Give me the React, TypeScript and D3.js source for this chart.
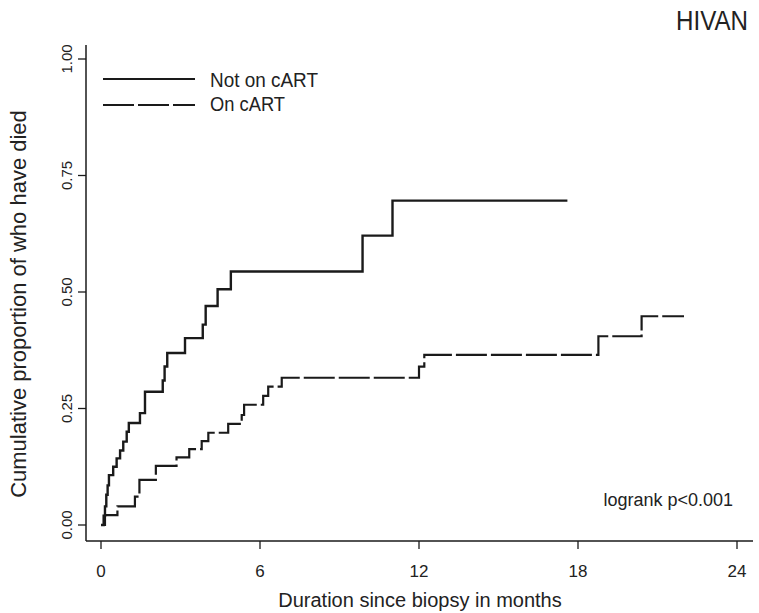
import React from "react";
import * as d3 from "d3";

const notOnTimes = [0, 0.1, 0.15, 0.2, 0.25, 0.3, 0.46, 0.59, 0.72, 0.84, 0.97, 1.05, 1.47, 1.66, 2.33, 2.4, 2.5, 3.17, 3.84, 3.95, 4.4, 4.9, 9.87, 11.0, 17.6];
const notOnValues = [0, 0.02, 0.04, 0.065, 0.085, 0.107, 0.125, 0.143, 0.16, 0.179, 0.2, 0.219, 0.24, 0.286, 0.31, 0.34, 0.369, 0.401, 0.43, 0.47, 0.506, 0.544, 0.621, 0.696, 0.696];

const onTimes = [0, 0.15, 0.62, 1.28, 1.45, 2.07, 2.85, 3.33, 3.8, 4.05, 4.8, 5.31, 5.4, 6.12, 6.31, 6.82, 12.0, 12.2, 18.77, 20.4, 22.0];
const onValues = [0, 0.021, 0.04, 0.061, 0.097, 0.127, 0.145, 0.163, 0.18, 0.198, 0.217, 0.236, 0.258, 0.277, 0.297, 0.316, 0.34, 0.365, 0.405, 0.448, 0.448];

const xTicks = [0, 6, 12, 18, 24];
const yTicks = [0, 0.25, 0.5, 0.75, 1];
const yTickLabels = ["0.00", "0.25", "0.50", "0.75", "1.00"];
const seriesNames = ["Not on cART", "On cART"];
const title = "HIVAN";
const xTitle = "Duration since biopsy in months";
const yTitle = "Cumulative proportion of who have died";
const note = "logrank p<0.001";

export default function App() {
  const W = 759, H = 613;
  const x = d3.scaleLinear().domain([0, 24]).range([101, 737]);
  const y = d3.scaleLinear().domain([0, 1]).range([525, 59]);
  const axisX = 86, axisY = 541;
  const ink = "#1a1a1a";
  const font = "'Liberation Sans', Arial, sans-serif";

  const line = d3
    .line<[number, number]>()
    .x((d) => x(d[0]))
    .y((d) => y(d[1]))
    .curve(d3.curveStepAfter);

  const notOn = notOnTimes.map((t, i) => [t, notOnValues[i]] as [number, number]);
  const on = onTimes.map((t, i) => [t, onValues[i]] as [number, number]);

  return (
    <svg width={W} height={H} style={{ position: "absolute", left: 0, top: 0, background: "#fff" }} fontFamily={font}>
      <rect x={0} y={0} width={W} height={H} fill="#fff" />
      {/* axes */}
      <line x1={axisX} y1={45} x2={axisX} y2={axisY} stroke={ink} strokeWidth={1.5} />
      <line x1={axisX} y1={axisY} x2={753} y2={axisY} stroke={ink} strokeWidth={1.5} />
      {yTicks.map((t, i) => (
        <g key={"yt" + i}>
          <line x1={78} x2={axisX} y1={y(t)} y2={y(t)} stroke={ink} strokeWidth={1.3} />
          <text
            transform={`translate(72,${y(t)}) rotate(-90)`}
            textAnchor="middle"
            fontSize={15}
            fill="#222"
          >
            {yTickLabels[i]}
          </text>
        </g>
      ))}
      {xTicks.map((t, i) => (
        <g key={"xt" + i}>
          <line x1={x(t)} x2={x(t)} y1={axisY} y2={axisY + 8} stroke={ink} strokeWidth={1.3} />
          <text x={x(t)} y={577} textAnchor="middle" fontSize={17} fill="#222">
            {String(t)}
          </text>
        </g>
      ))}
      <text x={420} y={607} textAnchor="middle" fontSize={20} fill="#222">
        {xTitle}
      </text>
      <text transform={`translate(26,304) rotate(-90)`} textAnchor="middle" fontSize={22} fill="#222">
        {yTitle}
      </text>
      <text x={748} y={30} textAnchor="end" fontSize={27} fill="#222" textLength={72} lengthAdjust="spacingAndGlyphs">
        {title}
      </text>
      <text x={733} y={506} textAnchor="end" fontSize={18} fill="#222">
        {note}
      </text>
      {/* curves */}
      <path d={line(notOn) || ""} fill="none" stroke={ink} strokeWidth={2.4} />
      <path d={line(on) || ""} fill="none" stroke={ink} strokeWidth={2.2} strokeDasharray="31 4" />
      {/* legend */}
      <line x1={103} x2={195} y1={79} y2={79} stroke={ink} strokeWidth={2.2} />
      <line x1={103} x2={195} y1={105} y2={105} stroke={ink} strokeWidth={2.2} strokeDasharray="31 4" />
      <text x={210} y={86.5} fontSize={20} fill="#222" textLength={108} lengthAdjust="spacingAndGlyphs">
        {seriesNames[0]}
      </text>
      <text x={210} y={110.5} fontSize={20} fill="#222" textLength={75} lengthAdjust="spacingAndGlyphs">
        {seriesNames[1]}
      </text>
    </svg>
  );
}
